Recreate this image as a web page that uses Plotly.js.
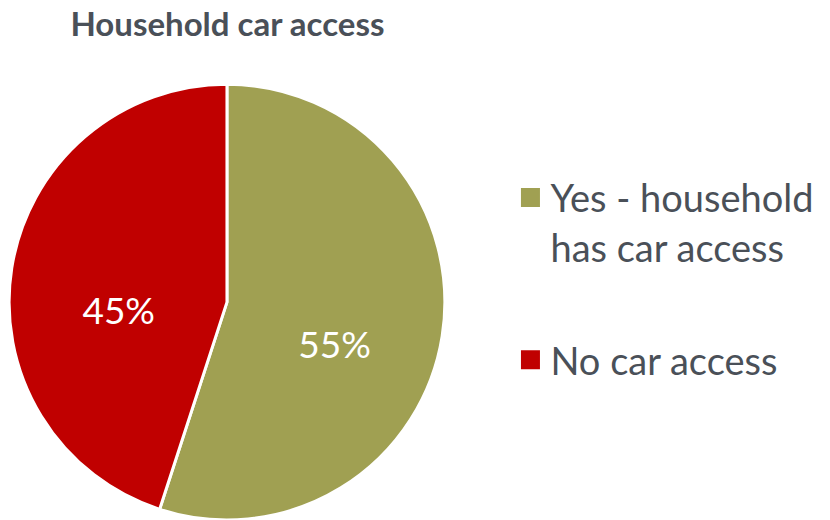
<!DOCTYPE html>
<html>
<head>
<meta charset="utf-8">
<script src="https://cdn.plot.ly/plotly-3.0.1.min.js"></script>
<style>html,body{margin:0;padding:0;background:#fff;}#chart{width:830px;height:520px;}</style>
</head>
<body>
<div id="chart"></div>
<script>
const categories = ["Yes - household<br>has car access<br>&nbsp;", "No car access"];
const shares = [55, 45];
const colors = ["#A0A052", "#C00000"];

const data = [{
  type: "pie",
  labels: categories,
  values: shares,
  sort: false,
  direction: "clockwise",
  rotation: 0,
  marker: {colors: colors, line: {color: "#ffffff", width: 3}},
  texttemplate: "&nbsp;<br>%{percent:.0%}",
  textposition: "inside",
  insidetextfont: {color: "#ffffff", size: 37, family: "Lato, 'Open Sans', sans-serif"},
  insidetextorientation: "horizontal",
  hoverinfo: "none",
  domain: {x: [0.0108, 0.5361], y: [0.0, 0.838]}
}];

const layout = {
  width: 830, height: 520,
  margin: {l: 0, r: 0, t: 0, b: 0},
  paper_bgcolor: "#ffffff",
  font: {family: "Lato, 'Open Sans', sans-serif", color: "#4A5058"},
  title: {
    text: "<b>Household car access</b>",
    font: {size: 33, color: "#4A5058", family: "Lato, 'Open Sans', sans-serif"},
    x: 0.274, xanchor: "center", xref: "paper",
    y: 0.953, yanchor: "middle", yref: "container"
  },
  showlegend: true,
  legend: {
    x: 0.615, xanchor: "left", y: 0.68, yanchor: "top",
    valign: "top",
    font: {size: 38, color: "#4A5058", family: "Lato, 'Open Sans', sans-serif"},
    tracegroupgap: 0,
    itemwidth: 30
  }
};

Plotly.newPlot("chart", data, layout, {displayModeBar: false, staticPlot: true}).then(function (gd) {
  gd.querySelectorAll("path.legendpie").forEach(function (p) {
    p.setAttribute("d", "M9.5,9.5H-9.5V-9.5H9.5Z");
    p.style.strokeWidth = "0";
  });
  var items = gd.querySelectorAll(".legend g.traces");
  if (items.length > 1) {
    var g = items[1];
    var t = g.getAttribute("transform") || "";
    var m = t.match(/translate\(\s*([-\d.]+)[ ,]+([-\d.]+)\s*\)/);
    if (m) g.setAttribute("transform", "translate(" + m[1] + "," + (parseFloat(m[2]) + 11) + ")");
  }
});
</script>
</body>
</html>
